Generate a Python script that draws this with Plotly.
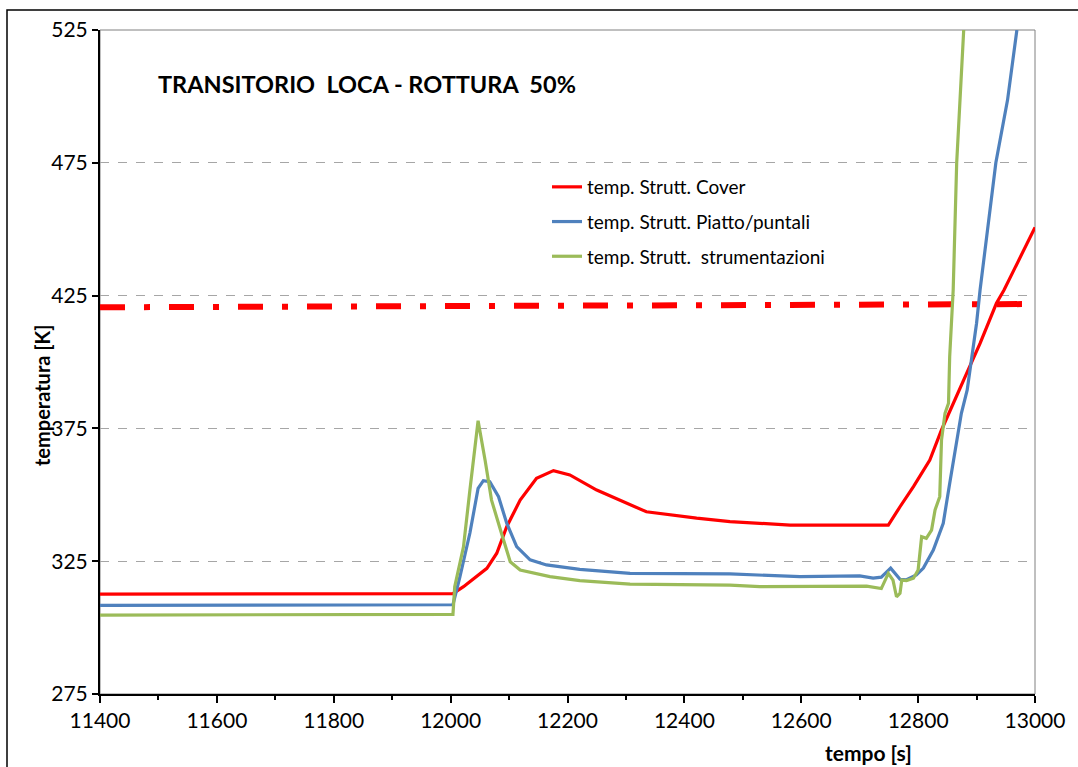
import plotly.graph_objects as go

# Temperature histories during the LOCA transient (50% break)
time_cover = [11400, 12000, 12004, 12022, 12062, 12079, 12096, 12119, 12147, 12176,
              12204, 12250, 12307, 12335, 12421, 12478, 12581, 12749, 12769, 12792,
              12820, 12840, 12883, 12906, 12934, 12947, 13000]
temp_cover = [312.6, 312.6, 312.8, 315.4, 322.3, 328.0, 338.0, 348.0, 356.2, 359.1,
              357.5, 351.8, 346.2, 343.6, 341.2, 339.9, 338.6, 338.6, 345.5, 353.1,
              363.1, 374.4, 395.7, 407.0, 422.1, 427.1, 450.7]

time_piatto = [11400, 12000, 12004, 12016, 12033, 12047, 12056, 12067, 12082, 12096,
               12113, 12136, 12164, 12221, 12307, 12478, 12598, 12700, 12723, 12737,
               12753, 12769, 12780, 12797, 12809, 12826, 12843, 12854, 12866, 12874,
               12884, 12892, 12900, 12906, 12933, 12953, 12969]
temp_piatto = [308.4, 308.4, 308.6, 319.2, 335.6, 352.4, 355.3, 354.9, 349.3, 339.3,
               330.5, 325.5, 323.6, 321.9, 320.4, 320.2, 319.2, 319.5, 318.6, 319.0,
               322.4, 318.2, 318.0, 319.8, 322.4, 329.2, 339.3, 354.3, 370.6, 380.7,
               389.5, 402.0, 414.6, 427.1, 475.0, 498.6, 525.0]

time_strum = [11400, 12000, 12004, 12007, 12022, 12033, 12042, 12047, 12059, 12070,
              12087, 12102, 12119, 12170, 12221, 12307, 12478, 12529, 12712, 12737,
              12749, 12757, 12763, 12769, 12772, 12780, 12792, 12800, 12806, 12814,
              12823, 12829, 12837, 12840, 12846, 12852, 12854, 12860, 12866, 12878]
temp_strum = [304.7, 304.7, 305.0, 315.4, 330.4, 351.8, 369.5, 377.9, 363.0, 348.0,
              335.5, 324.8, 321.7, 319.2, 317.7, 316.4, 316.0, 315.4, 315.6, 314.7,
              320.4, 317.9, 311.6, 312.9, 317.9, 317.7, 318.6, 321.7, 334.2, 333.6,
              336.7, 344.3, 349.3, 370.6, 380.7, 384.5, 402.0, 427.1, 475.0, 525.0]

# Temperature limit
time_limit = [11400, 12980]
temp_limit = [420.6, 421.8]

series_names = ["temp. Strutt. Cover",
                "temp. Strutt. Piatto/puntali",
                "temp. Strutt.\u00a0 strumentazioni"]
series_colors = ["#FF0000", "#4F81BD", "#9BBB59"]

x_ticks = [11400, 11600, 11800, 12000, 12200, 12400, 12600, 12800, 13000]
y_ticks = [275, 325, 375, 425, 475, 525]

FONT = "Lato, 'Open Sans', sans-serif"

fig = go.Figure()

fig.add_trace(go.Scatter(
    x=time_limit, y=temp_limit, mode="lines", showlegend=False,
    line=dict(color="#FF0000", width=6, dash="25px,19px,6px,19px"),
    hoverinfo="skip"))

for i, (tx, ty) in enumerate([(time_cover, temp_cover),
                              (time_piatto, temp_piatto),
                              (time_strum, temp_strum)]):
    fig.add_trace(go.Scatter(
        x=tx, y=ty, mode="lines", name=series_names[i],
        legendgroup="g%d" % i,
        line=dict(color=series_colors[i], width=3.2)))

W, H = 1078, 767
ml, mr, mt, mb = 100, 43, 30, 73
pw, ph = W - ml - mr, H - mt - mb


def px_x(p):
    return (p - ml) / pw


def px_y(p):
    return (H - mb - p) / ph


fig.update_layout(
    width=W, height=H,
    margin=dict(l=ml, r=mr, t=mt, b=mb),
    paper_bgcolor="white", plot_bgcolor="white",
    font=dict(family=FONT, size=18, color="#000000"),
    showlegend=True,
    legend=dict(x=px_x(547), y=px_y(168), xanchor="left", yanchor="top",
                bgcolor="rgba(0,0,0,0)", borderwidth=0,
                font=dict(family=FONT, size=19), tracegroupgap=7,
                traceorder="grouped", itemwidth=30),
    xaxis=dict(range=[11400, 13000], tickvals=x_ticks, tickformat="d",
               showgrid=False,
               showline=True, linecolor="black", linewidth=2,
               ticks="outside", ticklen=7, tickcolor="black", tickwidth=1.5,
               minor=dict(dtick=100, ticks="outside", ticklen=4,
                          tickcolor="black", showgrid=False),
               tickfont=dict(size=21), zeroline=False),
    yaxis=dict(range=[275, 525], tickvals=y_ticks, showgrid=True,
               gridcolor="#A6A6A6", griddash="dash", gridwidth=1,
               showline=True, linecolor="black", linewidth=2,
               ticks="outside", ticklen=6, tickcolor="black", tickwidth=1.5,
               tickfont=dict(size=21), zeroline=False),
    shapes=[
        # plot-area frame
        dict(type="rect", xref="paper", yref="paper", x0=0, x1=1, y0=0, y1=1,
             line=dict(color="#808080", width=1), layer="below"),
        # chart-area frame
        dict(type="rect", xref="paper", yref="paper",
             x0=px_x(7), x1=px_x(1085), y0=px_y(775), y1=px_y(10),
             line=dict(color="black", width=1.5), layer="below"),
    ],
    annotations=[
        dict(text="<b>TRANSITORIO&nbsp; LOCA - ROTTURA&nbsp; 50%</b>",
             xref="paper", yref="paper", x=px_x(156), y=px_y(84),
             xanchor="left", yanchor="middle", showarrow=False,
             font=dict(family=FONT, size=23.5)),
        dict(text="<b>temperatura [K]</b>", textangle=-90,
             xref="paper", yref="paper", x=px_x(42), y=px_y(396),
             xanchor="center", yanchor="middle", showarrow=False,
             font=dict(family=FONT, size=20)),
        dict(text="<b>tempo [s]</b>",
             xref="paper", yref="paper", x=px_x(868), y=px_y(752),
             xanchor="center", yanchor="middle", showarrow=False,
             font=dict(family=FONT, size=21)),
    ],
)

fig.write_html("out.html")
